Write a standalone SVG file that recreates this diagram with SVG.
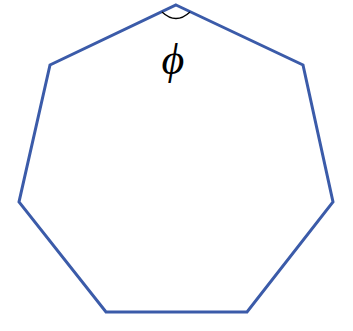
<svg xmlns="http://www.w3.org/2000/svg" width="353" height="331" viewBox="0 0 353 331">
<style>
.edge{fill:none;stroke:#3b5ba9;stroke-width:3;stroke-linejoin:miter}
.arc{fill:none;stroke:#000;stroke-width:1.3}
.lbl{font-family:"Liberation Serif","DejaVu Serif",serif;font-style:italic;font-size:44px;fill:#000}
</style>
<g id="heptagon">
<polygon class="edge" points="176,5 303,65 333,202 247,312 106,312 19,202 50,65"/>
</g>
<g id="angle">
<path class="arc" d="M162,12 Q176,25 190,12"/>
<text class="lbl" x="173" y="74" text-anchor="middle">ϕ</text>
</g>
</svg>
